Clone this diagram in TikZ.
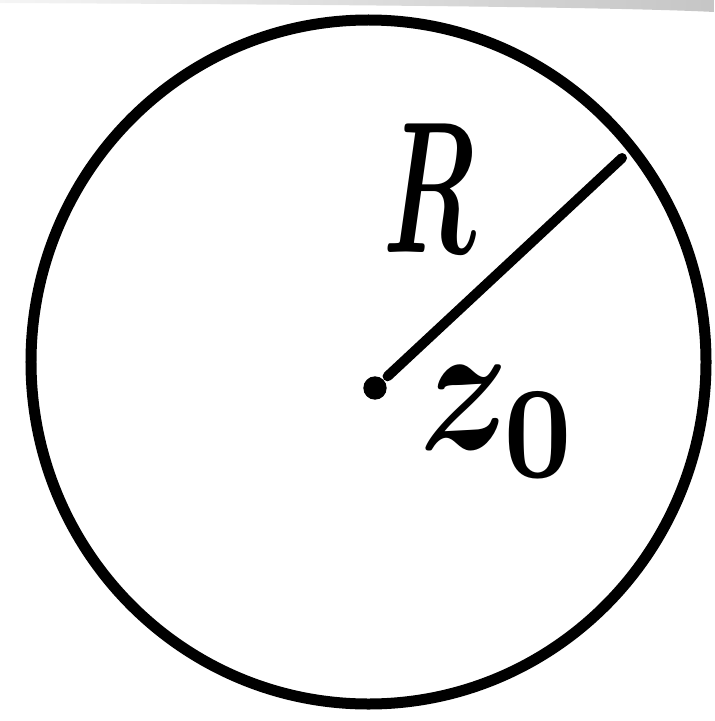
\documentclass[tikz,border=0pt]{standalone}
\usepackage{graphicx}
\usepackage{xcolor}
\usetikzlibrary{positioning,calc,shapes.geometric}
\definecolor{ink}{HTML}{000000}
\tikzset{
  every picture/.style={line width=3.3mm, draw=ink, text=ink},
  disk/.style={draw=ink, ellipse, minimum width=202.5mm, minimum height=205.2mm, inner sep=0pt},
  centre/.style={circle, fill=ink, minimum size=7mm, inner sep=0pt},
  radius/.style={draw=ink, line width=3mm, line cap=round},
  hand/.style={inner sep=0pt},
}
\newcommand{\bighand}[3]{\scalebox{#1}[#2]{\boldmath #3}}
\begin{document}
\begin{tikzpicture}[x=0.3mm, y=-0.3mm]
\useasboundingbox (0,0) rectangle (714,721);
% scanner shadow along the top edge
\shade[left color=gray!8, right color=gray!45, draw=none] (0,0) -- (714,0) -- (714,12) .. controls (600,6) and (200,4) .. (0,3) -- cycle;
\node[disk] (disk) at (368.5,362) {};
\node[centre] (z0) at (375,388) {};
\coordinate (rim) at (622,158);
\draw[radius] (z0) -- (rim);
\node[hand] (lblR) at (430,188) {\bighand{9}{16}{$R$}};
\node[hand] (lblz) at (500,422) {\bighand{13}{16}{$z_0$}};
\end{tikzpicture}
\end{document}
